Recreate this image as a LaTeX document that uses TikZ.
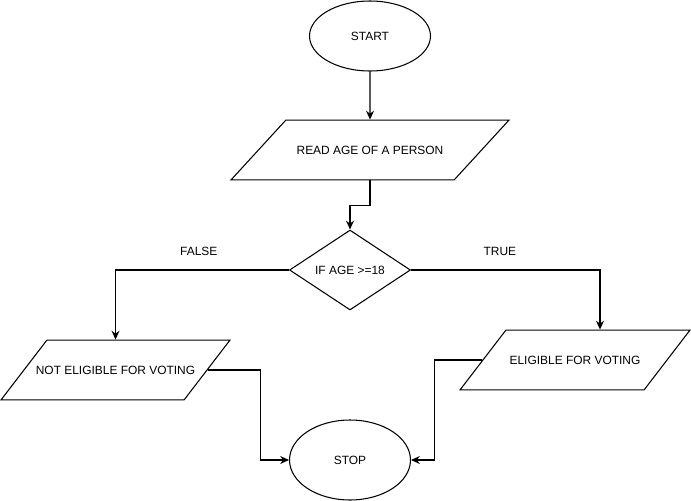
\documentclass[tikz,border=0pt]{standalone}
\usepackage{fontspec}
\setmainfont{Liberation Sans}
\usetikzlibrary{shapes.geometric}
\usetikzlibrary{arrows.meta}

\tikzset{
  terminal/.style={ellipse, draw, minimum width=2.42cm, inner sep=0pt},
  io/.style={trapezium, draw, trapezium stretches body, inner sep=0pt, text height=19.45pt, text depth=14.58pt},
  decision/.style={diamond, draw, minimum width=2.42cm, minimum height=1.6cm, inner sep=0pt},
  flow/.style={-{Stealth[length=5pt,width=4.5pt]}},
  lbl/.style={inner sep=0pt, yshift=0.38cm}
}

\begin{document}
\begin{tikzpicture}[x=0.02cm, y=-0.02cm, line width=0.6pt, font=\fontsize{6.8}{8}\selectfont]
    \useasboundingbox (0,0) rectangle (691,501);
    \node[terminal, minimum height=1.4cm] (start) at (370,36) {START};
    \node[io, trapezium left angle=47.5, trapezium right angle=132.5, minimum width=5.56cm] (read) at (370,150) {READ AGE OF A PERSON};
    \node[decision] (cond) at (350,270) {IF AGE >=18};
    \node[io, trapezium left angle=52.5, trapezium right angle=127.5, minimum width=4.58cm] (noteligible) at (115.5,370) {\makebox[2.7cm]{NOT ELIGIBLE FOR VOTING}};
    \node[io, trapezium left angle=52.5, trapezium right angle=127.5, minimum width=4.6cm] (eligible) at (575,360) {ELIGIBLE FOR VOTING};
    \node[terminal, minimum height=1.6cm] (stop) at (350,460) {STOP};
    % connectors
    \draw[flow] (start) -- (read);
    \draw[flow] (read.south) -- ++(0,25) -| (cond.north);
    \draw[flow] (cond.west) -| node[lbl, pos=0.26] (lfalse) {FALSE} (noteligible.north);
    \draw[flow] (cond.east) -| node[lbl, pos=0.235] (ltrue) {TRUE} ([xshift=0.5cm]eligible.north);
    \draw[flow] (noteligible.east) -- ++(53,0) |- (stop.west);
    \draw[flow] (eligible.west) -- ++(-48,0) |- (stop.east);
\end{tikzpicture}
\end{document}
